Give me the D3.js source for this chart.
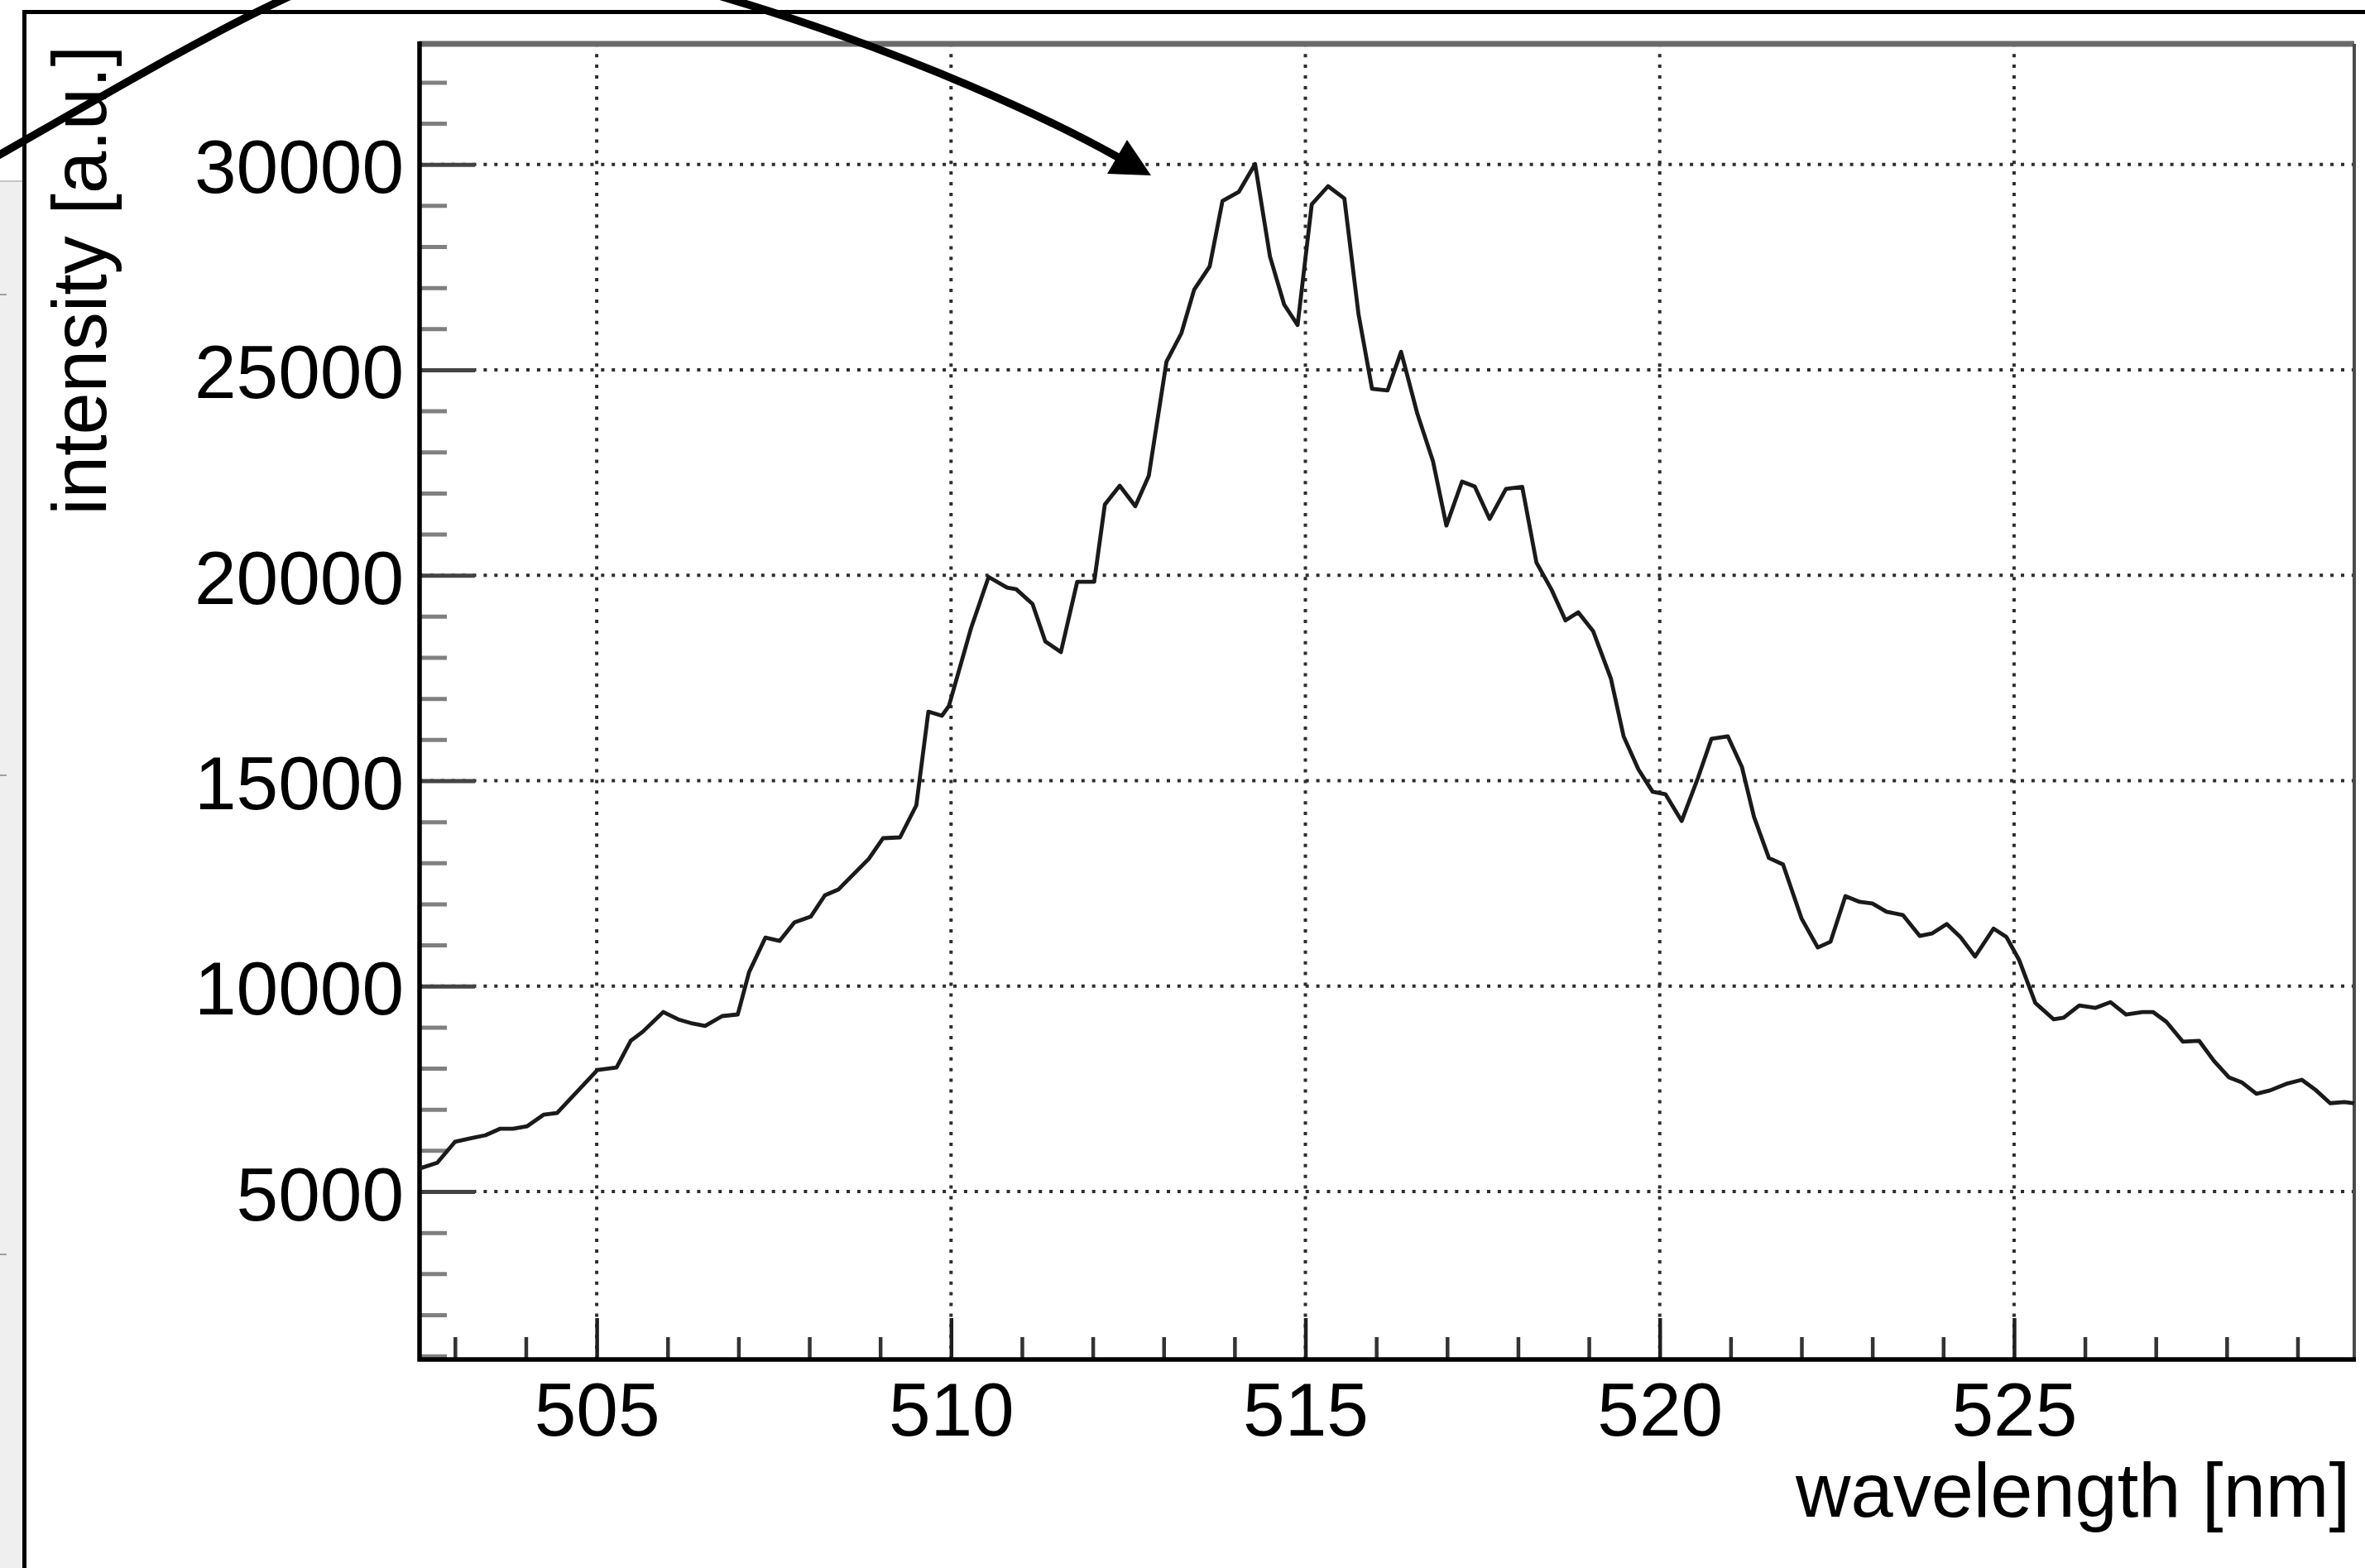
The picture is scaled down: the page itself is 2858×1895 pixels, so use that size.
<!DOCTYPE html>
<html>
<head>
<meta charset="utf-8">
<script src="https://cdn.jsdelivr.net/npm/d3@7"></script>
<style>
  html, body { margin: 0; padding: 0; background: #ffffff; }
  svg { display: block; }
  text { font-family: "Liberation Sans", Arial, Helvetica, sans-serif; fill: #000; }
</style>
</head>
<body>
<script>
// ---------------- data ----------------
const wavelength = [
  502.50, 502.75, 503.00, 503.21, 503.43, 503.64, 503.82, 504.02, 504.25, 504.44,
  505.01, 505.28, 505.48, 505.65, 505.94, 506.15, 506.35, 506.53, 506.77, 506.99,
  507.15, 507.38, 507.58, 507.79, 508.02, 508.22, 508.41, 508.84, 509.04, 509.28,
  509.51, 509.68, 509.87, 509.97, 510.28, 510.53, 510.79, 510.92, 511.15, 511.33,
  511.55, 511.78, 512.02, 512.17, 512.38, 512.60, 512.79, 513.04, 513.25, 513.43,
  513.65, 513.83, 514.06, 514.29, 514.50, 514.70, 514.89, 515.09, 515.32, 515.55,
  515.75, 515.94, 516.16, 516.35, 516.58, 516.80, 516.99, 517.21, 517.39, 517.60,
  517.83, 518.06, 518.26, 518.47, 518.67, 518.85, 519.06, 519.31, 519.49, 519.70,
  519.90, 520.08, 520.31, 520.54, 520.73, 520.96, 521.16, 521.33, 521.54, 521.74,
  522.00, 522.23, 522.41, 522.62, 522.82, 523.00, 523.20, 523.43, 523.67, 523.84,
  524.05, 524.24, 524.45, 524.71, 524.89, 525.07, 525.30, 525.56, 525.70, 525.92,
  526.15, 526.36, 526.58, 526.81, 526.96, 527.15, 527.38, 527.61, 527.82, 528.03,
  528.21, 528.42, 528.61, 528.84, 529.06, 529.25, 529.46, 529.66, 529.80
];
const intensity = [
  5560, 5700, 6210, 6290, 6370, 6530, 6530, 6590, 6870, 6910,
  7960, 8020, 8670, 8890, 9370, 9190, 9090, 9030, 9270, 9310,
  10340, 11180, 11100, 11550, 11690, 12210, 12350, 13100, 13600, 13620,
  14400, 16680, 16580, 16820, 18700, 19960, 19700, 19660, 19300, 18390,
  18130, 19840, 19840, 21720, 22180, 21680, 22420, 25200, 25890, 26950,
  27520, 29110, 29330, 30010, 27760, 26590, 26090, 29030, 29470, 29170,
  26350, 24540, 24500, 25440, 23930, 22780, 21210, 22280, 22160, 21370,
  22100, 22150, 20310, 19660, 18900, 19100, 18640, 17490, 16080, 15270,
  14730, 14670, 14020, 15070, 16020, 16080, 15330, 14120, 13120, 12960,
  11650, 10940, 11080, 12190, 12050, 12010, 11810, 11730, 11220, 11280,
  11510, 11200, 10720, 11400, 11200, 10640, 9590, 9190, 9230, 9530,
  9470, 9610, 9310, 9370, 9370, 9130, 8650, 8670, 8180, 7780,
  7660, 7380, 7460, 7620, 7720, 7480, 7150, 7180, 7150
];
const xMajorTicks = [505, 510, 515, 520, 525];
const xTickLabels = ["505", "510", "515", "520", "525"];
const yMajorTicks = [5000, 10000, 15000, 20000, 25000, 30000];
const yTickLabels = ["5000", "10000", "15000", "20000", "25000", "30000"];
const xDomain = [502.5, 529.8];
const yDomain = [912, 32934];
const xTitle = "wavelength [nm]";
const yTitle = "intensity [a.u.]";

// ---------------- layout ----------------
const W = 2858, H = 1895;
const L = 507, R = 2845, T = 53, B = 1643;
const FS = 91;

const svg = d3.select("body").append("svg")
  .attr("width", W).attr("height", H)
  .attr("viewBox", `0 0 ${W} ${H}`);

svg.append("rect").attr("width", W).attr("height", H).attr("fill", "#ffffff");

// left window chrome
svg.append("rect").attr("x", 0).attr("y", 219).attr("width", 27).attr("height", H - 219)
  .attr("fill", "#efefef");
svg.append("line").attr("x1", 0).attr("x2", 27).attr("y1", 219).attr("y2", 219)
  .attr("stroke", "#c4c4d0").attr("stroke-width", 2);
[356, 937, 1516].forEach(yy => {
  svg.append("line").attr("x1", 0).attr("x2", 8).attr("y1", yy).attr("y2", yy)
    .attr("stroke", "#a0a0a0").attr("stroke-width", 2);
});
// outer black border
svg.append("path").attr("d", `M29.5,${H + 5} L29.5,14.5 L${W + 5},14.5`)
  .attr("fill", "none").attr("stroke", "#000").attr("stroke-width", 5);

const x = d3.scaleLinear().domain(xDomain).range([L, R]);
const y = d3.scaleLinear().domain(yDomain).range([B, T]);

// grid
const grid = svg.append("g").attr("stroke", "#2e2e2e").attr("stroke-width", 4)
  .attr("stroke-dasharray", "4,8.9");
grid.selectAll("line.vg").data(xMajorTicks).enter().append("line")
  .attr("x1", d => x(d)).attr("x2", d => x(d)).attr("y1", B).attr("y2", T);
grid.selectAll("line.hg").data(yMajorTicks).enter().append("line")
  .attr("x1", L).attr("x2", R).attr("y1", d => y(d)).attr("y2", d => y(d));

// frame top/right
svg.append("line").attr("x1", L).attr("x2", R).attr("y1", T).attr("y2", T)
  .attr("stroke", "#6a6a6a").attr("stroke-width", 7);
svg.append("line").attr("x1", R).attr("x2", R).attr("y1", T).attr("y2", B)
  .attr("stroke", "#4a4a4a").attr("stroke-width", 4);

// minor ticks
const xMinor = d3.range(Math.ceil(xDomain[0]), Math.floor(xDomain[1]) + 1, 1).filter(v => v % 5 !== 0);
const yMinor = d3.range(1000, yDomain[1], 1000).filter(v => v % 5000 !== 0 && v > yDomain[0]);

svg.append("g").attr("transform", `translate(0,${B})`)
  .call(d3.axisBottom(x).tickValues(xMinor).tickSizeInner(-27).tickSizeOuter(0).tickFormat(""))
  .call(g => g.select(".domain").remove())
  .call(g => g.selectAll(".tick line").attr("stroke", "#333").attr("stroke-width", 4.5));

svg.append("g").attr("transform", `translate(${L},0)`)
  .call(d3.axisLeft(y).tickValues(yMinor).tickSizeInner(-33).tickSizeOuter(0).tickFormat(""))
  .call(g => g.select(".domain").remove())
  .call(g => g.selectAll(".tick line").attr("stroke", "#808080").attr("stroke-width", 5));

// major ticks + labels
const xAxis = svg.append("g").attr("transform", `translate(0,${B})`)
  .call(d3.axisBottom(x).tickValues(xMajorTicks).tickSizeInner(-50).tickSizeOuter(0)
    .tickPadding(0).tickFormat((d, i) => xTickLabels[i]));
xAxis.select(".domain").remove();
xAxis.selectAll(".tick line").attr("stroke", "#1e1e1e").attr("stroke-width", 4.5);
xAxis.selectAll(".tick text").attr("font-size", FS).attr("fill", "#000")
  .attr("y", 92).attr("dy", 0)
  .style("font-family", '"Liberation Sans", Arial, sans-serif');

const yAxis = svg.append("g").attr("transform", `translate(${L},0)`)
  .call(d3.axisLeft(y).tickValues(yMajorTicks).tickSizeInner(-67).tickSizeOuter(0)
    .tickPadding(19).tickFormat((d, i) => yTickLabels[i]));
yAxis.select(".domain").remove();
yAxis.selectAll(".tick line").attr("stroke", "#444").attr("stroke-width", 5);
yAxis.selectAll(".tick text").attr("font-size", FS).attr("fill", "#000")
  .attr("dy", 0).attr("y", 34)
  .style("font-family", '"Liberation Sans", Arial, sans-serif');

// axis lines (left & bottom)
svg.append("path").attr("d", `M${L},${T - 3} L${L},${B} L${R + 2},${B}`)
  .attr("fill", "none").attr("stroke", "#000").attr("stroke-width", 5.5)
  .attr("stroke-linejoin", "miter");

// data line
const line = d3.line().x((d, i) => x(wavelength[i])).y(d => y(d));
svg.append("path").datum(intensity)
  .attr("d", line)
  .attr("fill", "none").attr("stroke", "#1a1a1a").attr("stroke-width", 4.8)
  .attr("stroke-linejoin", "round");

// titles
svg.append("text").attr("x", 2840).attr("y", 1833).attr("text-anchor", "end")
  .attr("font-size", FS + 1).text(xTitle);
svg.append("text").attr("transform", "translate(128,55) rotate(-90)")
  .attr("text-anchor", "end").attr("font-size", FS + 1).text(yTitle);

// annotation arrow
svg.append("path")
  .attr("d", "M-30,204 C250,44 420,-62 560,-62 C760,-62 1151,78 1351,190")
  .attr("fill", "none").attr("stroke", "#000").attr("stroke-width", 9.5);
svg.append("path").attr("d", "M1391,212 L1338,210 L1362,169 Z").attr("fill", "#000");
</script>
</body>
</html>
